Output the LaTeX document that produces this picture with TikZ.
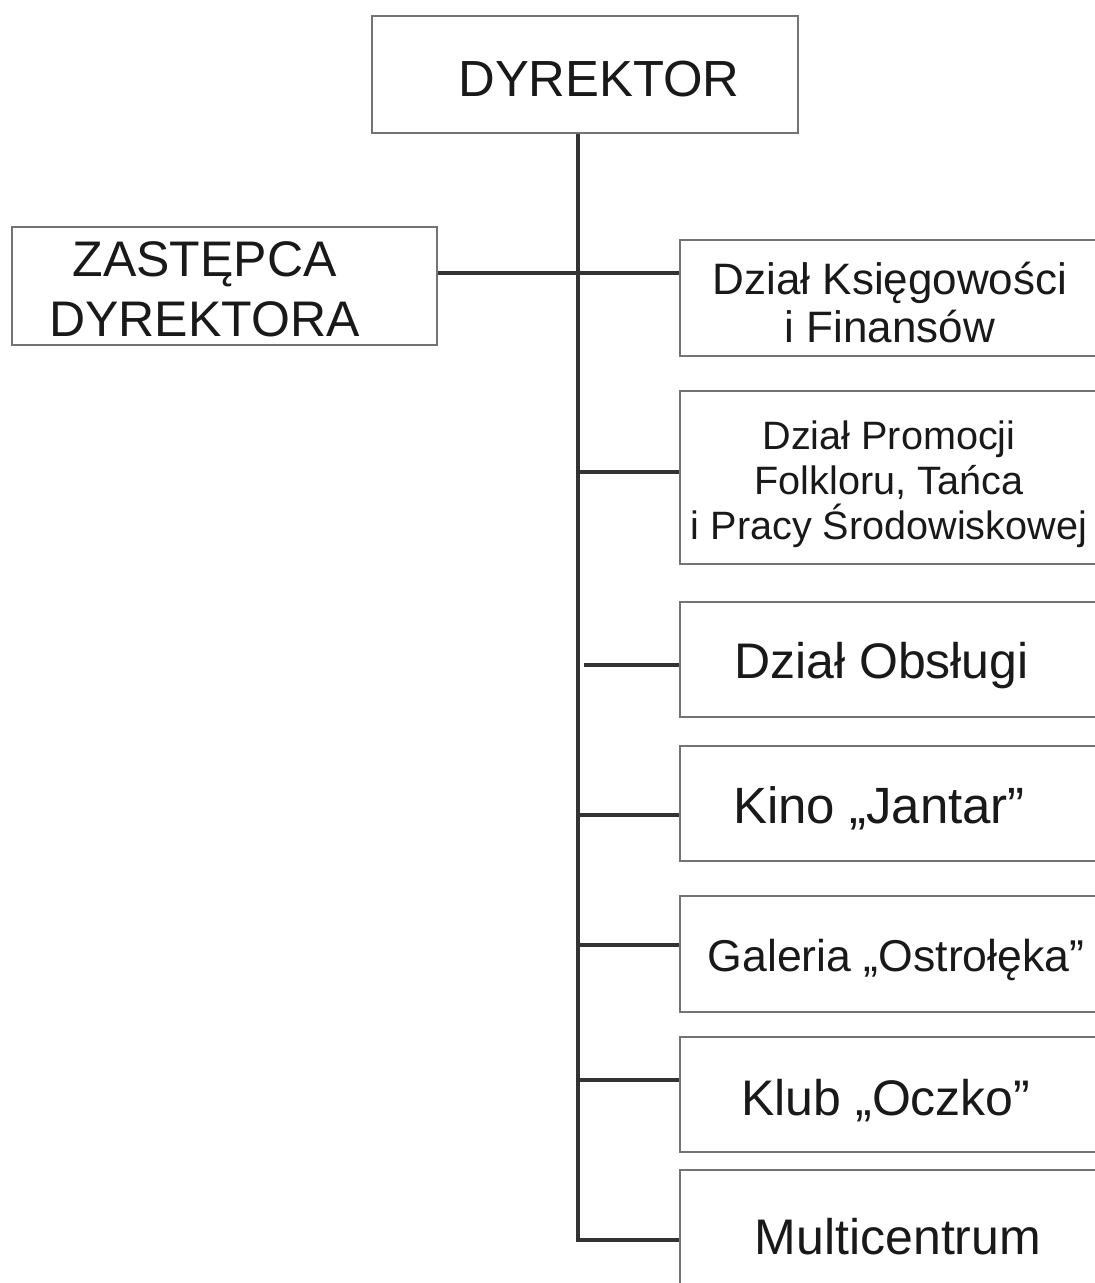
\documentclass[tikz,border=0pt]{standalone}
\usepackage{fontspec}
\setmainfont{Liberation Sans}
\usepackage{tikz}

\tikzset{
  box/.style={draw=black!55, line width=0.8pt, fill=white, inner sep=0pt},
  rbox/.style={box, minimum width=209pt},
  txt/.style={align=center, text=black!90, inner sep=0pt},
  conn/.style={draw=black!80, line width=2.1pt},
}
\newcommand{\fs}[2]{\fontsize{#1}{#2}\selectfont}

\begin{document}
\begin{tikzpicture}[x=0.5pt, y=-0.5pt]
  \fill[white] (0,0) rectangle (1094,1283);
  \useasboundingbox (0,0) rectangle (1094,1283);

  \node[box, minimum width=213pt, minimum height=58.5pt,
    label={[txt, font=\fs{25.4pt}{30pt}, xshift=7pt, yshift=-2.5pt]center:DYREKTOR}] (dyr) at (585,74.5) {};
  \node[box, minimum width=212.5pt, minimum height=59pt,
    label={[txt, font=\fs{25pt}{30pt}, xshift=-10pt, yshift=-1.75pt]center:{ZASTĘPCA\\DYREKTORA}}] (zas) at (224.5,286) {};

  \node[rbox, minimum height=58pt,
    label={[txt, font=\fs{22pt}{24pt}, xshift=0.5pt, yshift=-2.25pt]center:{Dział Księgowości\\i Finansów}}] (k1) at (889,298) {};
  \node[rbox, minimum height=86.5pt,
    label={[txt, font=\fs{19.8pt}{22.5pt}, yshift=-3.5pt]center:{Dział Promocji\\Folkloru, Tańca\\i Pracy Środowiskowej}}] (k2) at (889,477.5) {};
  \node[rbox, minimum height=57.5pt,
    label={[txt, font=\fs{25pt}{30pt}, xshift=-3.75pt, yshift=-3pt]center:{Dział Obsługi}}] (k3) at (889,659.5) {};
  \node[rbox, minimum height=57.5pt,
    label={[txt, font=\fs{25.5pt}{30pt}, xshift=-5pt, yshift=-2.5pt]center:{Kino „Jantar”}}] (k4) at (889,803.5) {};
  \node[rbox, minimum height=58pt,
    label={[txt, font=\fs{22.3pt}{27pt}, xshift=3.5pt, yshift=-2.75pt]center:{Galeria „Ostrołęka”}}] (k5) at (889,954) {};
  \node[rbox, minimum height=57.5pt,
    label={[txt, font=\fs{25pt}{30pt}, xshift=-1.5pt, yshift=-3pt]center:{Klub „Oczko”}}] (k6) at (889,1094.5) {};
  \node[rbox, minimum height=67pt,
    label={[txt, font=\fs{25pt}{30pt}, xshift=4.5pt]center:Multicentrum}] (k7) at (889,1237) {};

  % pion
  \coordinate (tb) at (578,1240);
  \draw[conn] (dyr.south -| tb) -- (tb) -- (tb -| k7.west);

  % zastepca i ksiegowosc
  \coordinate (t1) at (578,273);
  \draw[conn] (zas.east |- t1) -- (k1.west |- t1);

  \foreach \n/\x/\y in {2/578/472, 3/584/665, 4/578/815, 5/578/945, 6/578/1080} {
    \coordinate (t\n) at (\x,\y);
    \draw[conn] (t\n) -- (t\n -| k\n.west);
  }
\end{tikzpicture}
\end{document}
